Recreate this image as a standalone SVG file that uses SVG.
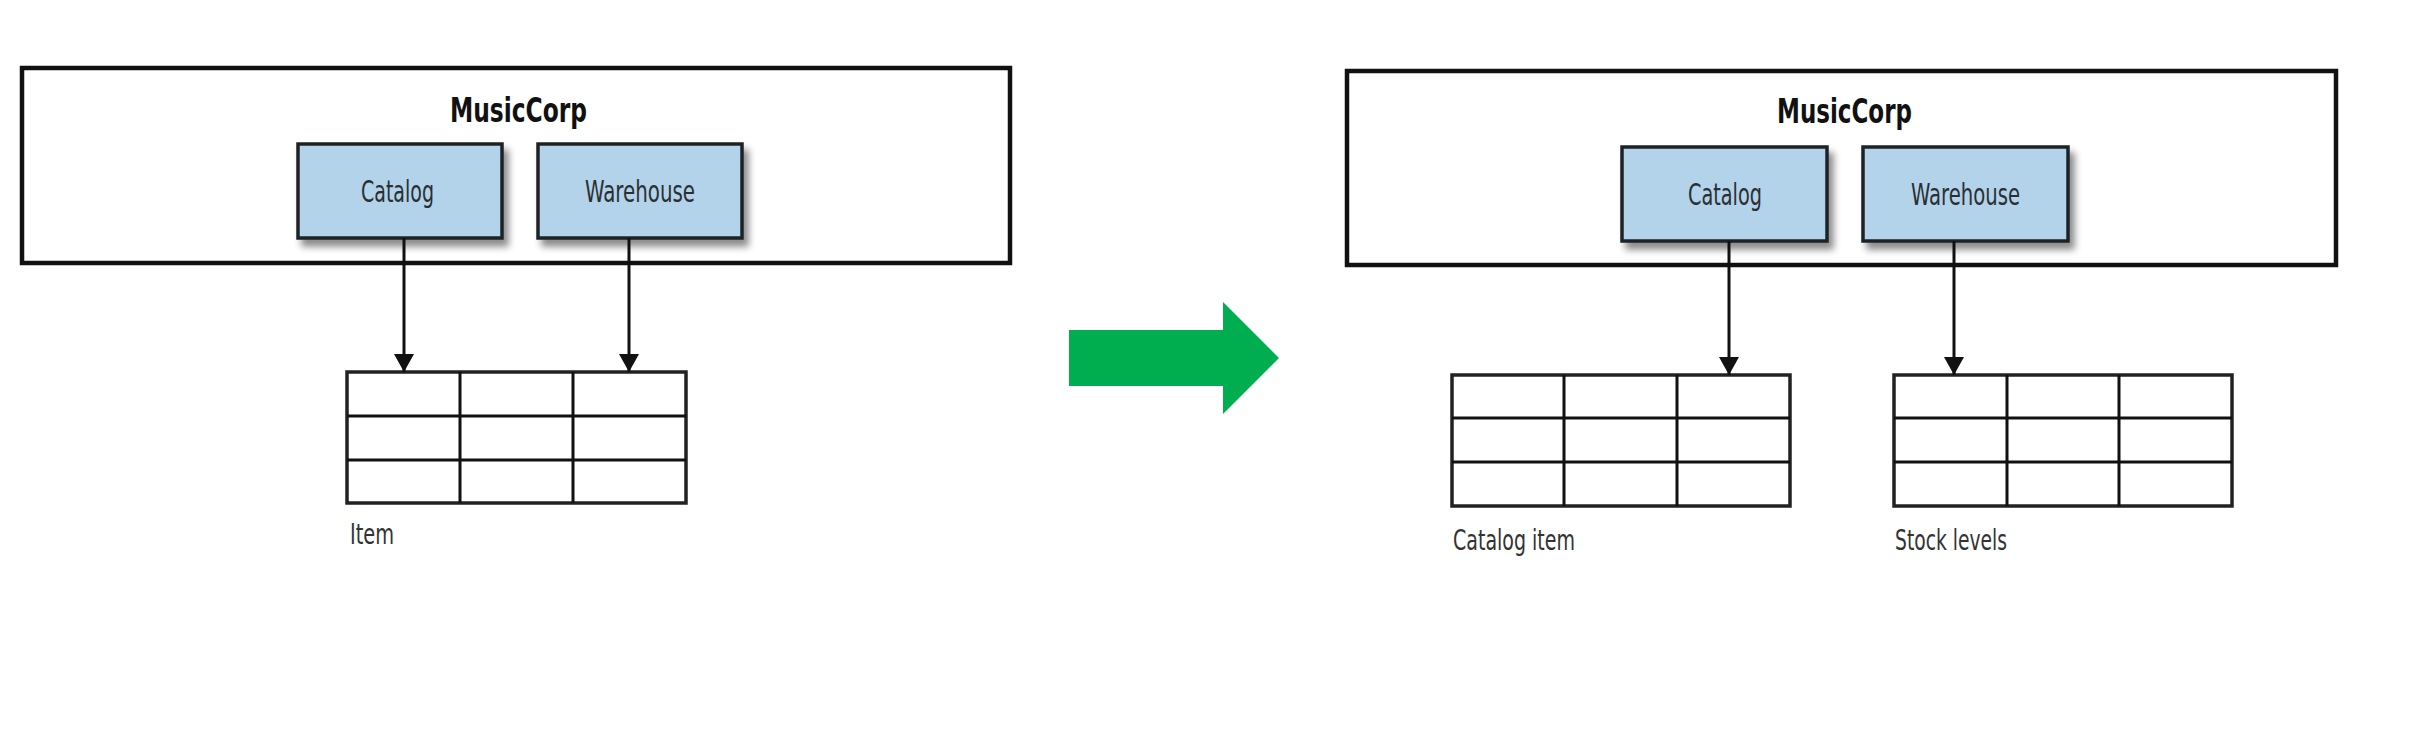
<svg xmlns="http://www.w3.org/2000/svg" width="2414" height="738" viewBox="0 0 2414 738">
<defs>
<filter id="sh" x="-10%" y="-10%" width="130%" height="140%">
<feDropShadow dx="5" dy="7" stdDeviation="3.5" flood-color="#000" flood-opacity="0.45"/>
</filter>
<marker id="ah" viewBox="0 0 18 20" refX="18" refY="10" markerWidth="18" markerHeight="20" markerUnits="userSpaceOnUse" orient="auto">
<path d="M0,0 L18,10 L0,20 Z" fill="#111"/>
</marker>
</defs>
<style>
.cont{fill:#fff;stroke:#111;stroke-width:4.5}
.svc{fill:#b3d3ea;stroke:#1e2327;stroke-width:3.5;filter:url(#sh)}
.tbl{fill:#fff;stroke:#222;stroke-width:3.5}
.grid{stroke:#111;stroke-width:3;fill:none}
.conn{stroke:#111;stroke-width:3;fill:none}
.title{font-family:"Liberation Sans Narrow","DejaVu Sans Condensed","Liberation Sans",sans-serif;font-stretch:condensed;font-weight:bold;font-size:34px;fill:#111;text-anchor:start}
.lbl{font-family:"Liberation Sans Narrow","DejaVu Sans Condensed","Liberation Sans",sans-serif;font-stretch:condensed;font-size:30px;fill:#2a2f33}
.cap{font-family:"Liberation Sans Narrow","DejaVu Sans Condensed","Liberation Sans",sans-serif;font-stretch:condensed;font-size:29px;fill:#333}
</style>
<rect width="2414" height="738" fill="#fff"/>

<g id="left-musiccorp">
<rect class="cont" x="22" y="68" width="988" height="195"/>
<text class="title" x="450" y="122" textLength="137" lengthAdjust="spacingAndGlyphs">MusicCorp</text>
</g>
<g id="left-catalog">
<rect class="svc" x="298" y="144" width="204" height="94"/>
<text class="lbl" x="361" y="202" textLength="73" lengthAdjust="spacingAndGlyphs">Catalog</text>
</g>
<g id="left-warehouse">
<rect class="svc" x="538" y="144" width="204" height="94"/>
<text class="lbl" x="585" y="202" textLength="110" lengthAdjust="spacingAndGlyphs">Warehouse</text>
</g>
<g id="left-item-table">
<rect class="tbl" x="347" y="372" width="339" height="131"/>
<path class="grid" d="M460,372V503M573,372V503M347,416H686M347,460H686"/>
<text class="cap" x="350" y="544" textLength="44" lengthAdjust="spacingAndGlyphs">Item</text>
</g>

<g id="transition-arrow">
<polygon points="1069,330 1223,330 1223,302 1279,358 1223,414 1223,386 1069,386" fill="#00ae4f"/>
</g>

<g id="right-musiccorp">
<rect class="cont" x="1347" y="71" width="989" height="194"/>
<text class="title" x="1777" y="123" textLength="135" lengthAdjust="spacingAndGlyphs">MusicCorp</text>
</g>
<g id="right-catalog">
<rect class="svc" x="1622" y="147" width="205" height="94"/>
<text class="lbl" x="1688" y="205" textLength="74" lengthAdjust="spacingAndGlyphs">Catalog</text>
</g>
<g id="right-warehouse">
<rect class="svc" x="1863" y="147" width="205" height="94"/>
<text class="lbl" x="1911" y="205" textLength="109" lengthAdjust="spacingAndGlyphs">Warehouse</text>
</g>
<g id="right-catalog-item-table">
<rect class="tbl" x="1452" y="375" width="338" height="131"/>
<path class="grid" d="M1564,375V506M1677,375V506M1452,418H1790M1452,462H1790"/>
<text class="cap" x="1453" y="550" textLength="122" lengthAdjust="spacingAndGlyphs">Catalog item</text>
</g>
<g id="right-stock-levels-table">
<rect class="tbl" x="1894" y="375" width="338" height="131"/>
<path class="grid" d="M2007,375V506M2119,375V506M1894,418H2232M1894,462H2232"/>
<text class="cap" x="1895" y="550" textLength="112" lengthAdjust="spacingAndGlyphs">Stock levels</text>
</g>

<g id="connectors">
<line class="conn" x1="404" y1="238" x2="404" y2="372" marker-end="url(#ah)"/>
<line class="conn" x1="629" y1="238" x2="629" y2="372" marker-end="url(#ah)"/>
<line class="conn" x1="1729" y1="241" x2="1729" y2="375" marker-end="url(#ah)"/>
<line class="conn" x1="1954" y1="241" x2="1954" y2="375" marker-end="url(#ah)"/>
</g>
</svg>
